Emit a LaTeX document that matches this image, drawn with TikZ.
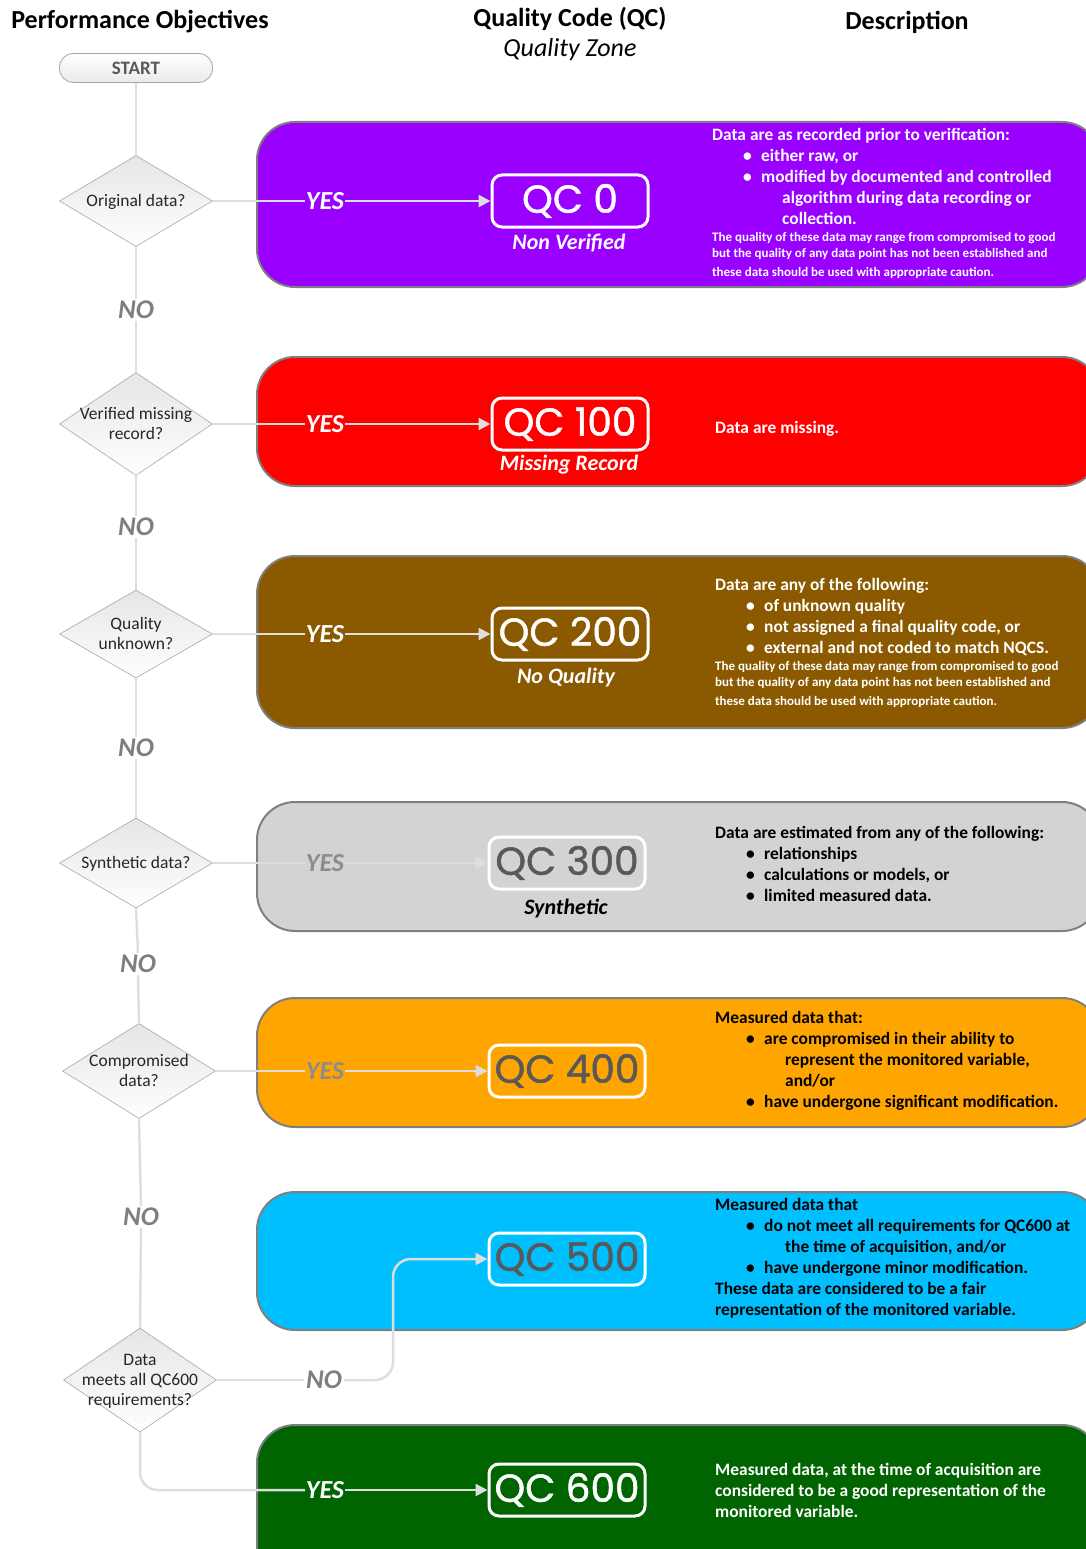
\documentclass[tikz,border=0pt]{standalone}
\usepackage{fontspec}
\setmainfont{Carlito}
\newfontfamily\qcfont{Poppins}[FakeBold=1.3]
\usetikzlibrary{shapes.geometric,arrows.meta}
\definecolor{cpurple}{HTML}{9900FF}
\definecolor{cred}{HTML}{FF0000}
\definecolor{cbrown}{HTML}{8B5A00}
\definecolor{cgrey}{HTML}{D3D3D3}
\definecolor{corange}{HTML}{FFA500}
\definecolor{cblue}{HTML}{00BFFF}
\definecolor{cgreen}{HTML}{006400}
\definecolor{pborder}{HTML}{7F7F7F}
\definecolor{connc}{HTML}{DEDEDE}
\definecolor{lblgray}{HTML}{7F7F7F}
\definecolor{qcgray}{HTML}{595959}
\definecolor{dborder}{HTML}{A6A6A6}
\definecolor{dtext}{HTML}{262626}
\newcommand\fsz[2]{\fontsize{#1}{#2}\selectfont}
\newcommand\bli[1]{\hspace*{31pt}\makebox[18pt][l]{\textbullet}#1}
\newcommand\blc[1]{\hspace*{70pt}#1}
\newcommand\dtxt[1]{\makebox[0pt]{\smash{\raisebox{-6pt}{\fsz{17.5}{20}\begin{tabular}{@{}c@{}}#1\end{tabular}}}}}
\begin{document}
\begin{tikzpicture}[x=1pt,y=-1pt,
  panel/.style={draw=pborder,line width=2pt,rounded corners=38pt},
  qcbox/.style={draw=white,line width=3pt,rounded corners=10pt,minimum width=156pt,minimum height=52pt,inner sep=0pt,font=\qcfont\fsz{39}{39}},
  decision/.style={diamond,draw=dborder,line width=0.6pt,top color=black!10,bottom color=white,minimum width=153pt,minimum height=91pt,inner sep=0pt,text=dtext},
  startbox/.style={draw=dborder,line width=0.8pt,rounded corners=14pt,top color=white,bottom color=black!8,minimum width=153pt,minimum height=29pt,inner sep=0pt,font=\bfseries\fsz{19}{19},text=qcgray},
  conn/.style={draw=connc,line width=2.5pt},
  arr/.style={conn,-{Triangle[length=12pt,width=12pt]},color=connc},
  yeslbl/.style={font=\bfseries\itshape\fsz{26}{26},inner sep=1pt},
  nolbl/.style={font=\bfseries\itshape\fsz{27}{27},inner sep=2pt,text=lblgray},
  subt/.style={font=\bfseries\itshape\fsz{22}{22},inner sep=0pt},
  desc/.style={anchor=north west,align=left,inner sep=0pt,font=\bfseries\fsz{17.4}{21}},
  small/.style={anchor=north west,align=left,inner sep=0pt,font=\bfseries\fsz{13}{16}},
  head/.style={font=\bfseries\fsz{26}{26},text=black,inner sep=0pt}]
\useasboundingbox (0,0) rectangle (1086,1549);
\clip (0,0) rectangle (1086,1549);

% headers
\node[head] (hperf) at (140,22) {Performance Objectives};
\node[head] (hqc) at (570,19) {Quality Code (QC)};
\node[font=\itshape\fsz{26}{26},inner sep=0pt] (hzone) at (570,50) {Quality Zone};
\node[head] (hdesc) at (907,22) {Description};

% panels
\path[panel,fill=cpurple] (257,122) rectangle (1100,287);
\path[panel,fill=cred] (257,357) rectangle (1100,486);
\path[panel,fill=cbrown] (257,556) rectangle (1100,728);
\path[panel,fill=cgrey] (257,802) rectangle (1100,931);
\path[panel,fill=corange] (257,998) rectangle (1100,1127);
\path[panel,fill=cblue] (257,1192) rectangle (1100,1330);
\path[panel,fill=cgreen] (257,1425) rectangle (1100,1600);

% start and decisions
\node[startbox] (start) at (136,68) {START};
\node[decision] (d1) at (136,201) {\dtxt{Original data?}};
\node[decision,minimum height=103pt] (d2) at (136,424) {\dtxt{Verified missing\\record?}};
\node[decision,minimum height=88pt] (d3) at (136,634) {\dtxt{Quality\\unknown?}};
\node[decision,minimum height=90pt] (d4) at (136,863) {\dtxt{Synthetic data?}};
\node[decision,minimum height=95pt] (d5) at (139,1071) {\dtxt{Compromised\\data?}};
\node[decision,minimum height=104pt] (d6) at (140,1380) {\dtxt{Data\\meets all QC600\\requirements?}};

% QC boxes
\node[qcbox,text=white] (q0) at (570,201) {QC 0};
\node[qcbox,text=white] (q100) at (570,424) {QC 100};
\node[qcbox,text=white] (q200) at (570,634) {QC 200};
\node[qcbox,text=qcgray] (q300) at (567,863) {QC 300};
\node[qcbox,text=qcgray] (q400) at (567,1071) {QC 400};
\node[qcbox,text=qcgray] (q500) at (567,1259) {QC 500};
\node[qcbox,text=white] (q600) at (567,1490) {QC 600};

% subtitles
\node[subt,text=white] (s0) at (569,243) {Non Verified};
\node[subt,text=white] (s100) at (569,465) {Missing Record};
\node[subt,text=white] (s200) at (566,678) {No Quality};
\node[subt,text=black] (s300) at (566,908) {Synthetic};

% YES labels
\node[yeslbl,text=white] (y1) at (325,201) {YES};
\node[yeslbl,text=white] (y2) at (325,424) {YES};
\node[yeslbl,text=white] (y3) at (325,634) {YES};
\node[yeslbl,text=black!45] (y4) at (325,863) {YES};
\node[yeslbl,text=black!45] (y5) at (325,1071) {YES};
\node[yeslbl,text=white] (y6) at (325,1490) {YES};

% NO labels
\node[nolbl] (n1) at (136,310) {NO};
\node[nolbl] (n2) at (136,527) {NO};
\node[nolbl] (n3) at (136,748) {NO};
\node[nolbl] (n4) at (138,964) {NO};
\node[nolbl] (n5) at (141,1217) {NO};
\node[nolbl] (n6) at (324,1380) {NO};

% connectors
\draw[conn] (start.south) -- (d1.north);
\draw[conn] (d1.east) -- (y1.west);
\draw[arr] (y1.east) -- (q0.west);
\draw[conn] (d1.south) -- (n1.north);
\draw[conn] (n1.south) -- (d2.north);
\draw[conn] (d2.east) -- (y2.west);
\draw[arr] (y2.east) -- (q100.west);
\draw[conn] (d2.south) -- (n2.north);
\draw[conn] (n2.south) -- (d3.north);
\draw[conn] (d3.east) -- (y3.west);
\draw[arr] (y3.east) -- (q200.west);
\draw[conn] (d3.south) -- (n3.north);
\draw[conn] (n3.south) -- (d4.north);
\draw[conn] (d4.east) -- (y4.west);
\draw[arr] (y4.east) -- (q300.west);
\draw[conn] (d4.south) -- (n4.north);
\draw[conn] (n4.south) -- (d5.north);
\draw[conn] (d5.east) -- (y5.west);
\draw[arr] (y5.east) -- (q400.west);
\draw[conn] (d5.south) -- (n5.north);
\draw[conn] (n5.south) -- (d6.north);
\draw[conn] (d6.east) -- (n6.west);
\coordinate (b1) at (393,1380);
\coordinate (b2) at (393,1259);
\draw[arr,rounded corners=18pt] (n6.east) -- (b1) -- (b2) -- (q500.west);
\coordinate (c6) at (140,1490);
\draw[conn,rounded corners=18pt] (d6.south) -- (c6) -- (y6.west);
\draw[arr] (y6.east) -- (q600.west);

% descriptions
\node[desc,text=white] (t0) at (712,125.8) {\strut Data are as recorded prior to verification:\\
\bli{either raw, or}\\
\bli{modified by documented and controlled}\\
\blc{algorithm during data recording or}\\
\blc{collection.}};
\node[small,text=white] (u0) at (712,230) {\strut The quality of these data may range from compromised to good\\
but the quality of any data point has not been established and\\[3pt]
these data should be used with appropriate caution.};

\node[desc,text=white] (t100) at (715,418.8) {\strut Data are missing.};

\node[desc,text=white] (t200) at (715,575.8) {\strut Data are any of the following:\\
\bli{of unknown quality}\\
\bli{not assigned a final quality code, or}\\
\bli{external and not coded to match NQCS.}};
\node[small,text=white] (u200) at (715,659) {\strut The quality of these data may range from compromised to good\\
but the quality of any data point has not been established and\\[3pt]
these data should be used with appropriate caution.};

\node[desc,text=black] (t300) at (715,823.8) {\strut Data are estimated from any of the following:\\
\bli{relationships}\\
\bli{calculations or models, or}\\
\bli{limited measured data.}};

\node[desc,text=black] (t400) at (715,1008.8) {\strut Measured data that:\\
\bli{are compromised in their ability to}\\
\blc{represent the monitored variable,}\\
\blc{and/or}\\
\bli{have undergone significant modification.}};

\node[desc,text=black] (t500) at (715,1195.8) {\strut Measured data that\\
\bli{do not meet all requirements for QC600 at}\\
\blc{the time of acquisition, and/or}\\
\bli{have undergone minor modification.}\\
These data are considered to be a fair\\
representation of the monitored variable.};

\node[desc,text=white] (t600) at (715,1460.8) {\strut Measured data, at the time of acquisition are\\
considered to be a good representation of the\\
monitored variable.};
\end{tikzpicture}
\end{document}
